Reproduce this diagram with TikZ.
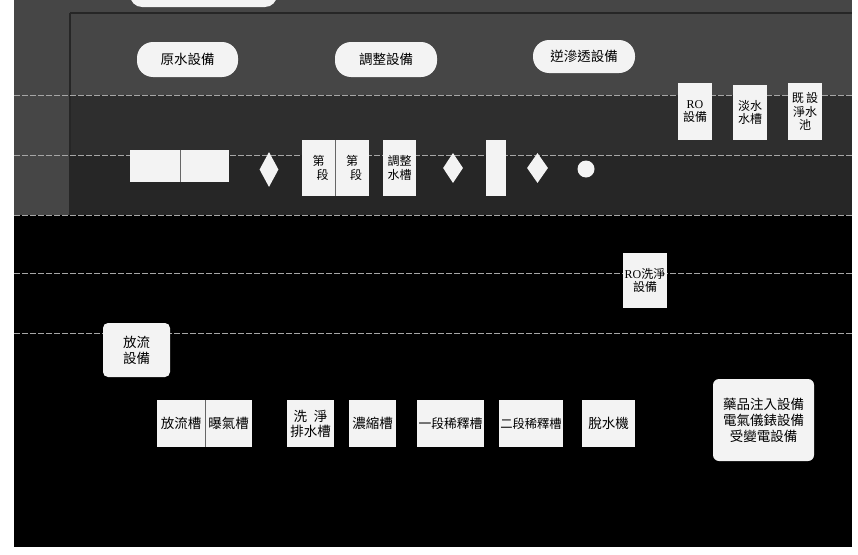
\documentclass[tikz,border=0pt]{standalone}
\usepackage{fontspec}
\setmainfont{Noto Sans CJK TC}
\newfontfamily\latinserif{Liberation Serif}
\usetikzlibrary{shapes.geometric}
\begin{document}
\begin{tikzpicture}[x=1pt,y=-1pt,
  pill/.style={rectangle,rounded corners=16pt,fill=boxfill,inner sep=0pt,align=center,font=\fontsize{13.5}{15}\selectfont},
  tank/.style={rectangle,fill=boxfill,inner sep=0pt,align=center,font=\fontsize{13.5}{15}\selectfont},
  smalltank/.style={tank,font=\fontsize{12}{13.5}\selectfont},
  panel/.style={rectangle,rounded corners=6pt,fill=boxfill,inner sep=0pt,align=center,font=\fontsize{13.5}{16}\selectfont},
  gem/.style={diamond,fill=boxfill,inner sep=0pt},
  rowline/.style={draw=gray!70,line width=0.6pt,dash pattern=on 6pt off 2pt},
  framedark/.style={draw=black!85,line width=2.5pt}]
\definecolor{boxfill}{HTML}{F3F3F3}
\definecolor{topgray}{HTML}{464646}
\definecolor{midgray}{HTML}{2E2E2E}
\useasboundingbox (0,0) rectangle (858,554);
% paper margins
\fill[white] (0,0) rectangle (858,554);
% dark scanned background
\fill[topgray] (14,0) rectangle (852,95);
\fill[midgray] (14,95) rectangle (852,155);
\fill[black!85] (14,155) rectangle (852,215);
\fill[black] (14,215) rectangle (852,547);
\fill[topgray] (14,95) rectangle (70,215);
% frame lines
\draw[framedark] (70,13) -- (852,13);
\draw[framedark] (70,13) -- (70,215);
% row separators
\foreach \yy in {95,155,215,273,333}
  \draw[rowline] (14,\yy) -- (852,\yy);
% partly hidden title shape at top
\fill[boxfill,rounded corners=12pt] (130,-30) rectangle (277,7);
% section headers
\node[pill,minimum width=101pt,minimum height=35pt] (raw) at (187.5,59.5) {原水設備};
\node[pill,minimum width=102pt,minimum height=35pt] (adj) at (386,59.5) {調整設備};
\node[pill,minimum width=102pt,minimum height=33pt] (ro) at (584,56.5) {逆滲透設備};
% raw water units
\node[tank,minimum width=50pt,minimum height=32pt] (b1) at (155,166) {};
\node[tank,minimum width=49pt,minimum height=32pt] (b2) at (204.5,166) {};
\node[gem,minimum width=19pt,minimum height=35pt] (d1) at (269,169.5) {};
\node[smalltank,minimum width=33pt,minimum height=56pt] (s1) at (318.5,168) {第\hspace{0.7em}\\\hspace{0.7em}段};
\node[smalltank,minimum width=34pt,minimum height=56pt] (s2) at (352,168) {第\hspace{0.7em}\\\hspace{0.7em}段};
\node[smalltank,minimum width=33pt,minimum height=56pt] (adjt) at (399.5,168) {調整\\水槽};
\node[gem,minimum width=20pt,minimum height=30pt] (d2) at (453,168) {};
\node[tank,minimum width=20pt,minimum height=56pt] (col) at (496,168) {};
\node[gem,minimum width=21pt,minimum height=30pt] (d3) at (537.5,168) {};
\node[circle,fill=boxfill,minimum size=17pt,inner sep=0pt] (c1) at (586,169) {};
% RO units
\node[smalltank,minimum width=34pt,minimum height=57pt] (rou) at (695,111.5) {{\latinserif RO}\\設備};
\node[smalltank,minimum width=34pt,minimum height=55pt] (fw) at (750,112.5) {淡水\\水槽};
\node[smalltank,minimum width=34pt,minimum height=57pt] (ex) at (805,111.5) {既\hspace{0.2em}設\\淨水\\池};
\node[smalltank,minimum width=44pt,minimum height=55pt] (rowash) at (645,280.5) {{\latinserif RO}洗淨\\設備};
% discharge
\node[panel,minimum width=67pt,minimum height=54pt,rounded corners=5pt] (dis) at (136.5,350) {放流\\設備};
% bottom row tanks
\node[tank,minimum width=48pt,minimum height=47pt] (t1) at (181,423.5) {放流槽};
\node[tank,minimum width=47pt,minimum height=47pt] (t2) at (228.5,423.5) {曝氣槽};
\node[tank,minimum width=47pt,minimum height=47pt] (t3) at (310.5,423.5) {洗\hspace{0.5em}淨\\排水槽};
\node[tank,minimum width=47pt,minimum height=47pt] (t4) at (372.5,423.5) {濃縮槽};
\node[tank,font=\fontsize{12.8}{15}\selectfont,minimum width=67pt,minimum height=47pt] (t5) at (450.5,423.5) {一段稀釋槽};
\node[tank,font=\fontsize{12.3}{15}\selectfont,minimum width=64pt,minimum height=47pt] (t6) at (531,423.5) {二段稀釋槽};
\node[tank,minimum width=53pt,minimum height=47pt] (t7) at (608.5,423.5) {脫水機};
% utilities
\node[panel,minimum width=101pt,minimum height=82pt] (util) at (763.5,420) {藥品注入設備\\電氣儀錶設備\\受變電設備};
% thin divider between joined boxes
\draw[black!60,line width=0.5pt] (b1.north east) -- (b1.south east);
\draw[black!60,line width=0.5pt] (s1.north east) -- (s1.south east);
\draw[black!60,line width=0.5pt] (t1.north east) -- (t1.south east);
\end{tikzpicture}
\end{document}
